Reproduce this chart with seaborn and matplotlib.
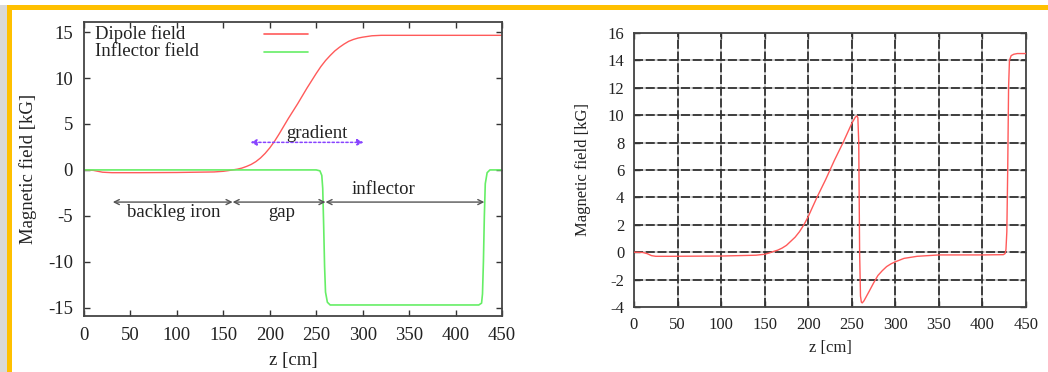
import numpy as np
import pandas as pd
import matplotlib
matplotlib.use("Agg")
import matplotlib.pyplot as plt
from matplotlib.patches import Rectangle
import seaborn as sns

# ---------------- data ----------------
dipole_z = [0, 10, 15, 20, 30, 60, 100, 140, 150, 155, 160, 165, 170, 175, 180,
            185, 190, 195, 200, 205, 210, 220, 230, 240, 250, 255, 260, 265, 270,
            275, 280, 285, 290, 295, 300, 310, 320, 330, 450]
dipole_b = [0, -0.05, -0.15, -0.25, -0.3, -0.3, -0.28, -0.22, -0.15, -0.08, 0.0,
            0.08, 0.2, 0.38, 0.6, 0.9, 1.3, 1.8, 2.4, 3.1, 3.9, 5.6, 7.2, 8.9,
            10.5, 11.25, 11.9, 12.45, 12.95, 13.35, 13.7, 14.0, 14.2, 14.35,
            14.45, 14.6, 14.65, 14.65, 14.65]

inflector_z = [0, 250, 254, 256, 257, 258, 259, 260, 262, 265, 425, 428, 429,
               430, 431, 432, 434, 437, 450]
inflector_b = [0, 0, -0.1, -0.6, -2, -6, -10.5, -13.3, -14.4, -14.7, -14.7,
               -14.5, -13.5, -10, -5, -1.5, -0.3, 0, 0]

total_z = [0, 10, 15, 20, 25, 40, 100, 140, 150, 155, 160, 165, 170, 175, 180,
           185, 190, 195, 200, 210, 220, 230, 240, 250, 254, 256, 257, 258, 259,
           260, 261, 262, 264, 267, 270, 275, 280, 285, 290, 295, 300, 310, 325,
           350, 400, 424, 426, 427, 428, 429, 430, 431, 433, 436, 440, 450]
total_b = [0, -0.02, -0.1, -0.25, -0.3, -0.3, -0.28, -0.22, -0.15, -0.06, 0.05,
           0.15, 0.3, 0.5, 0.8, 1.1, 1.5, 2.0, 2.6, 4.0, 5.3, 6.7, 8.0, 9.4,
           9.85, 9.95, 9.8, 8, 0, -3.2, -3.65, -3.7, -3.55, -3.2, -2.85, -2.25,
           -1.7, -1.35, -1.05, -0.85, -0.7, -0.45, -0.3, -0.2, -0.2, -0.18, -0.1,
           0.2, 1.5, 6, 12, 14.0, 14.35, 14.45, 14.5, 14.5]

series_labels = ["Dipole field", "Inflector field"]
left_yticks = [-15, -10, -5, 0, 5, 10, 15]
right_yticks = [-4, -2, 0, 2, 4, 6, 8, 10, 12, 14, 16]
x_ticks = [0, 50, 100, 150, 200, 250, 300, 350, 400, 450]

# ---------------- style ----------------
sns.set_style("ticks")
plt.rcParams["font.family"] = ["Liberation Serif", "DejaVu Serif"]
plt.rcParams["axes.unicode_minus"] = False
plt.rcParams["text.color"] = "#222222"
plt.rcParams["axes.labelcolor"] = "#222222"
plt.rcParams["xtick.color"] = "#333333"
plt.rcParams["ytick.color"] = "#333333"
plt.rcParams["xtick.labelcolor"] = "#222222"
plt.rcParams["ytick.labelcolor"] = "#222222"

RED = "#ff5a5a"
GREEN = "#66ee66"
SPINE = "#444444"

fig = plt.figure(figsize=(10.48, 3.72), dpi=100)
fig.patch.set_facecolor("white")

# slide decoration: grey edge + yellow frame
W, H = 1048.0, 372.0
fig.patches.append(Rectangle((0, 0), 7 / W, 1 - 5 / H, transform=fig.transFigure,
                             facecolor="#d9d9d9", edgecolor="none", zorder=0))
fig.patches.append(Rectangle((7 / W, 0), 5 / W, 1 - 5 / H, transform=fig.transFigure,
                             facecolor="#ffc000", edgecolor="none", zorder=0))
fig.patches.append(Rectangle((7 / W, 1 - 10 / H), 1 - 7 / W, 5 / H, transform=fig.transFigure,
                             facecolor="#ffc000", edgecolor="none", zorder=0))

def style_axes(ax, fs, pad):
    for s in ax.spines.values():
        s.set_color(SPINE)
        s.set_linewidth(1.3)
        s.set_visible(True)
    ax.tick_params(direction="in", length=4, width=1.0, top=True, right=True,
                   labelsize=fs, pad=pad)

# ---------------- left panel ----------------
axL = fig.add_axes([84 / W, 1 - 316 / H, (502 - 84) / W, (316 - 22) / H])
df_dip = pd.DataFrame({"z": dipole_z, "B": dipole_b})
df_inf = pd.DataFrame({"z": inflector_z, "B": inflector_b})
sns.lineplot(data=df_dip, x="z", y="B", ax=axL, color=RED, lw=1.0,
             sort=False, estimator=None)
sns.lineplot(data=df_inf, x="z", y="B", ax=axL, color=GREEN, lw=1.2,
             sort=False, estimator=None)
axL.set_xlim(0, 450)
axL.set_ylim(-15.9, 16.1)
axL.set_xticks(x_ticks)
axL.set_yticks(left_yticks)
axL.set_xlabel("z [cm]", fontsize=13.5, labelpad=6)
axL.set_ylabel("Magnetic field [kG]", fontsize=13.5, labelpad=8)
style_axes(axL, 13.5, 8)

# gnuplot-style key
for i, (lab, col) in enumerate(zip(series_labels, [RED, GREEN])):
    yk = 0.959 - i * 0.061
    axL.text(0.026, yk, lab, transform=axL.transAxes, fontsize=13.5,
             va="center", ha="left")
    axL.plot([0.43, 0.537], [yk, yk], transform=axL.transAxes, color=col, lw=1.2)

# annotations
axL.annotate("", xy=(179, 3.0), xytext=(301, 3.0),
             arrowprops=dict(arrowstyle="<|-|>", color="#8844ff", lw=1.1,
                             ls=(0, (1.5, 1.5)), mutation_scale=9,
                             shrinkA=0, shrinkB=0))
axL.text(251, 4.0, "gradient", ha="center", va="center", fontsize=13.5)
for a, b in [(31, 160), (160, 260), (260, 431)]:
    axL.annotate("", xy=(a, -3.5), xytext=(b, -3.5),
                 arrowprops=dict(arrowstyle="<->", color="#555555", lw=1.0,
                                 mutation_scale=9, shrinkA=0, shrinkB=0))
axL.text(97, -4.6, "backleg iron", ha="center", va="center", fontsize=13.5)
axL.text(213, -4.6, "gap", ha="center", va="center", fontsize=13.5)
axL.text(322, -2.1, "inflector", ha="center", va="center", fontsize=13.5)

# ---------------- right panel ----------------
axR = fig.add_axes([634 / W, 1 - 307 / H, (1026 - 634) / W, (307 - 33) / H])
df_tot = pd.DataFrame({"z": total_z, "B": total_b})
axR.set_xlim(0, 450)
axR.set_ylim(-4, 16)
axR.set_xticks(x_ticks)
axR.set_yticks(right_yticks)
# grid: light solid base + dark dashes
axR.grid(True, color="#d0d0d0", lw=1.3, ls="-", zorder=0)
for xv in x_ticks[1:-1]:
    axR.axvline(xv, color="#333333", lw=1.3, ls=(0, (5, 1.5)), zorder=1)
for yv in right_yticks[1:-1]:
    axR.axhline(yv, color="#333333", lw=1.3, ls=(0, (5, 1.5)), zorder=1)
sns.lineplot(data=df_tot, x="z", y="B", ax=axR, color=RED, lw=1.0,
             sort=False, estimator=None, zorder=3)
axR.set_xlabel("z [cm]", fontsize=12, labelpad=5)
axR.set_ylabel("Magnetic field [kG]", fontsize=12, labelpad=12)
style_axes(axR, 12, 7)
axR.set_axisbelow(True)

fig.savefig("out.png", dpi=100, facecolor="white")
